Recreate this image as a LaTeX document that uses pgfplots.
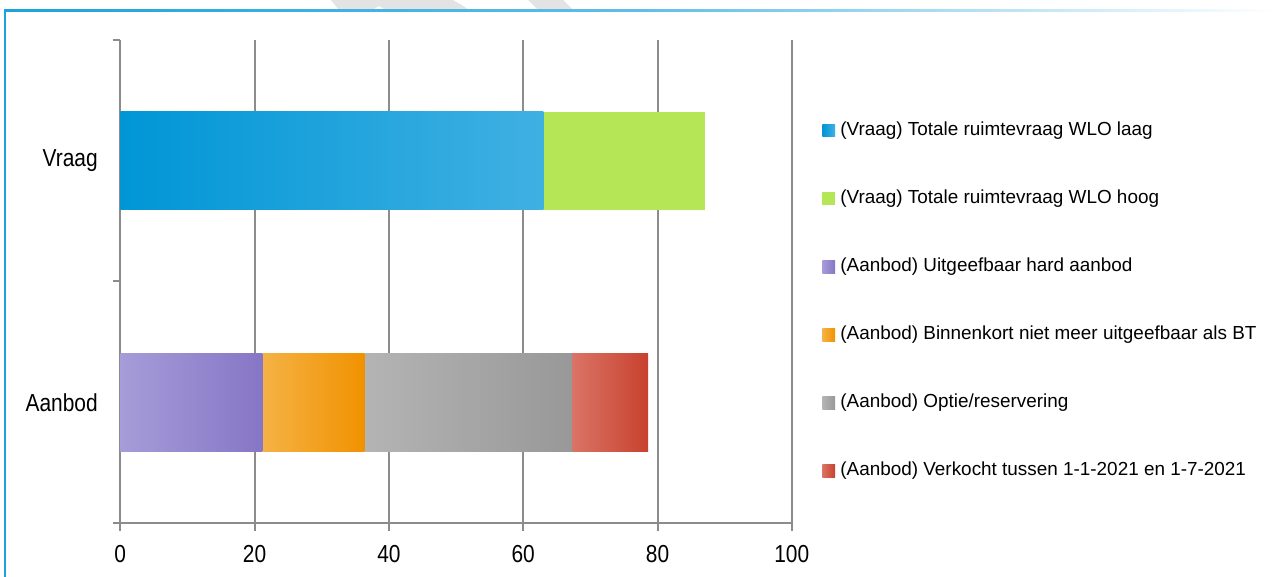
\documentclass[border=0pt]{standalone}
\usepackage{fontspec}
\setmainfont{Liberation Sans}
\newfontfamily\condfont[FakeStretch=0.85]{Liberation Sans}
\usepackage{pgfplots}
\pgfplotsset{compat=1.18}

\definecolor{frameblue}{HTML}{1BA3DD}
\definecolor{axisgray}{HTML}{8C8C8C}
\definecolor{blueL}{HTML}{0096D6}
\definecolor{blueR}{HTML}{40B0E2}
\definecolor{limegreen}{HTML}{B5E655}
\definecolor{purpleL}{HTML}{A69CD8}
\definecolor{purpleR}{HTML}{8676C6}
\definecolor{orangeL}{HTML}{F5B245}
\definecolor{orangeR}{HTML}{F09200}
\definecolor{grayL}{HTML}{B4B4B4}
\definecolor{grayR}{HTML}{989898}
\definecolor{redL}{HTML}{DA7466}
\definecolor{redR}{HTML}{C8412D}

\pgfplotsset{
  basechart/.style={
    at={(60.15pt,27pt)}, anchor=south west,
    scale only axis, width=335.75pt, height=241.5pt,
    xmin=0, xmax=100, ymin=-0.5, ymax=1.5,
    xbar stacked, bar width=49pt,
    legend image code/.code={\path[##1] (0pt,-3.15pt) rectangle (6.3pt,3.15pt);},
    legend style={draw=none, fill=none, inner sep=0pt,
      font=\fontsize{9.45}{11}\selectfont,
      nodes={inner sep=0pt, text height=7pt, text depth=2pt},
      row sep=25pt, column sep=2.7pt},
    legend cell align=left,
  },
}

\begin{document}
\begin{tikzpicture}
\useasboundingbox (0,0) rectangle (638.5pt,288.5pt);

% light watermark fragments at the top edge
\fill[gray!22] (165.5pt,288.5pt) -- (226.5pt,288.5pt) -- (234pt,284pt) -- (192pt,284pt)
  -- (189.5pt,285.5pt) -- (187pt,284pt) -- (169pt,284pt) -- cycle;
\fill[gray!22] (264pt,288.5pt) -- (281.5pt,288.5pt) -- (286pt,284pt) -- (268.5pt,284pt) -- cycle;

% frame
\shade[left color=frameblue, right color=white, middle color=frameblue!70]
  (2pt,282.5pt) rectangle (638.5pt,283.5pt);
\fill[frameblue] (2pt,0pt) rectangle (3pt,283.5pt);

% demand
\begin{axis}[basechart,
  axis x line*=bottom, axis y line*=left,
  axis line style={-, draw=axisgray, line width=1pt},
  xtick={0,20,...,100},
  xmajorgrids, major grid style={draw=axisgray, line width=1pt},
  ytick={-0.5,0.5,1.5}, yticklabels={},
  extra y ticks={0,1}, extra y tick labels={Aanbod,Vraag},
  extra y tick style={tick style={draw=none}},
  tick align=outside, major tick length=3.75pt,
  tick style={draw=axisgray, line width=1pt},
  ticklabel style={font=\condfont\fontsize{12.3}{14}\selectfont, text=black},
  xticklabel style={yshift=-4pt},
  yticklabel style={xshift=-4pt},
  /pgf/number format/assume math mode=true,
  legend style={at={(1.045,0.742)}, anchor=west},
]
\addplot[draw=none, left color=blueL, right color=blueR] coordinates {(63.0,1)};
\addlegendentry{(Vraag) Totale ruimtevraag WLO laag}
\addplot[draw=none, fill=limegreen] coordinates {(24.1,1)};
\addlegendentry{(Vraag) Totale ruimtevraag WLO hoog}
\end{axis}

% supply
\begin{axis}[basechart, hide axis,
  legend style={at={(1.045,0.319)}, anchor=west},
]
\addplot[draw=none, left color=purpleL, right color=purpleR] coordinates {(21.15,0)};
\addlegendentry{(Aanbod) Uitgeefbaar hard aanbod}
\addplot[draw=none, left color=orangeL, right color=orangeR] coordinates {(15.25,0)};
\addlegendentry{(Aanbod) Binnenkort niet meer uitgeefbaar als BT}
\addplot[draw=none, left color=grayL, right color=grayR] coordinates {(30.9,0)};
\addlegendentry{(Aanbod) Optie/reservering}
\addplot[draw=none, left color=redL, right color=redR] coordinates {(11.3,0)};
\addlegendentry{(Aanbod) Verkocht tussen 1-1-2021 en 1-7-2021}
\end{axis}
\end{tikzpicture}
\end{document}
